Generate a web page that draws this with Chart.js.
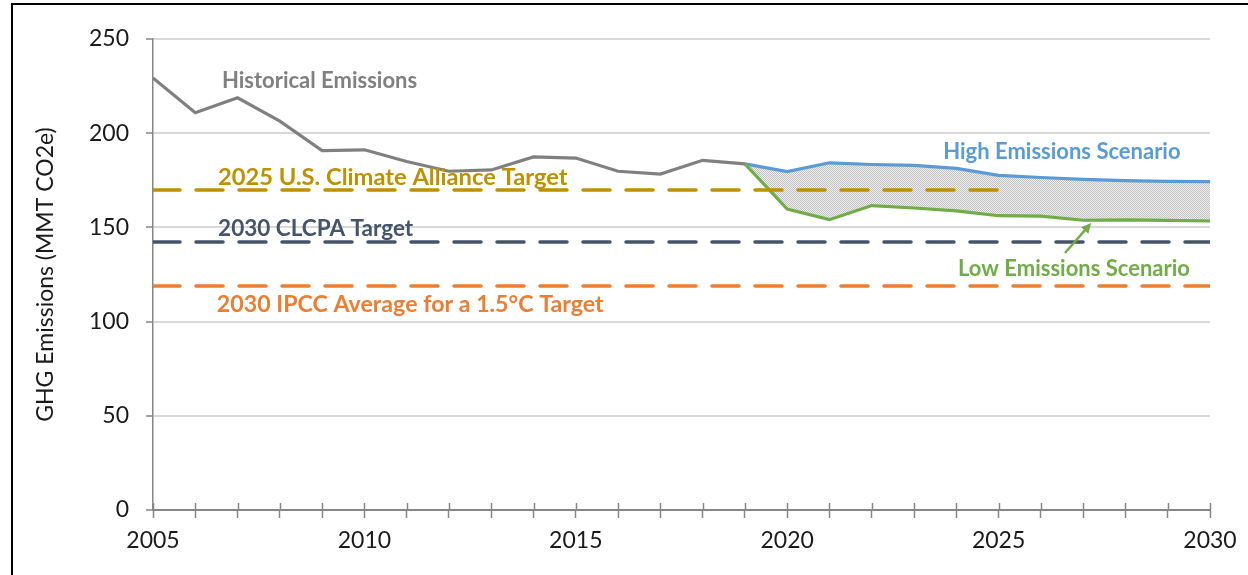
<!DOCTYPE html>
<html>
<head>
    <title>GHG Emissions Scenarios</title>
    <script src="https://cdn.jsdelivr.net/npm/chart.js"></script>
    <style>
        body { margin: 0; overflow: hidden; background: #fff; }
        #wrap { position: relative; width: 1248px; height: 575px; }
        #frame { position: absolute; left: 11px; top: 3px; width: 1300px; height: 700px; border: 2px solid #000; pointer-events: none; }
    </style>
</head>
<body>
    <div id="wrap">
        <canvas id="ghgChart" width="1248" height="575"></canvas>
        <div id="frame"></div>
    </div>

    <script>
        // data
        var histYears = [2005, 2006, 2007, 2008, 2009, 2010, 2011, 2012, 2013, 2014, 2015, 2016, 2017, 2018, 2019];
        var histValues = [229.3, 210.9, 218.8, 206.4, 190.8, 191.2, 185.0, 179.8, 180.5, 187.4, 186.8, 179.8, 178.3, 185.6, 183.7];

        var scenarioYears = [2019, 2020, 2021, 2022, 2023, 2024, 2025, 2026, 2027, 2028, 2029, 2030];
        var highValues = [183.7, 179.6, 184.3, 183.4, 182.9, 181.3, 177.6, 176.5, 175.5, 174.8, 174.4, 174.3];
        var lowValues = [183.7, 159.7, 154.1, 161.6, 160.3, 158.8, 156.2, 156.0, 153.8, 154.0, 153.7, 153.4];

        var targetNames = ['2025 U.S. Climate Alliance Target', '2030 CLCPA Target', '2030 IPCC Average for a 1.5°C Target'];
        var targetValues = [169.9, 142.3, 118.9];
        var targetStartYear = 2005;
        var targetEndYears = [2025, 2030, 2030];

        var yTicks = [0, 50, 100, 150, 200, 250];
        var xTickLabels = [2005, 2010, 2015, 2020, 2025, 2030];

        function pairs(xs, ys) {
            return xs.map(function(x, i) { return { x: x, y: ys[i] }; });
        }

        // stippled grey fill between the scenarios
        function dotPattern() {
            var c = document.createElement('canvas');
            c.width = 2; c.height = 2;
            var g = c.getContext('2d');
            g.fillStyle = '#f0f0f0';
            g.fillRect(0, 0, 2, 2);
            g.fillStyle = '#c0c0c0';
            g.fillRect(0, 0, 1, 1);
            g.fillRect(1, 1, 1, 1);
            return g.createPattern(c, 'repeat');
        }

        var targetColors = ['#BF9000', '#44546A', '#ED7D31'];

        var targetSets = targetValues.map(function(v, i) {
            return {
                label: targetNames[i],
                data: pairs([targetStartYear, targetEndYears[i]], [v, v]),
                borderColor: targetColors[i],
                borderWidth: 3.5,
                borderDash: [27, 16],
                borderCapStyle: 'round',
                pointRadius: 0,
                fill: false
            };
        });

        var notes = [
            { text: 'Historical Emissions', x: 2006.63, y: 227.7, color: '#808080', size: 22 },
            { text: 'High Emissions Scenario', x: 2023.69, y: 190.0, color: '#5B9BD5', size: 22 },
            { text: targetNames[0], x: 2006.54, y: 176.8, color: '#BF9000', size: 23.7 },
            { text: targetNames[1], x: 2006.54, y: 149.2, color: '#44546A', size: 22.5 },
            { text: targetNames[2], x: 2006.51, y: 108.8, color: '#ED7D31', size: 23.2 },
            { text: 'Low Emissions Scenario', x: 2024.04, y: 127.9, color: '#70AD47', size: 22 }
        ];
        var arrow = { from: [2026.57, 136.4], to: [2027.19, 152.3], color: '#70AD47' };

        var notesPlugin = {
            id: 'notes',
            afterDatasetsDraw: function(chart) {
                var ctx = chart.ctx;
                var xs = chart.scales.x, ys = chart.scales.y;
                ctx.save();
                // inner half of the x axis tick marks
                ctx.strokeStyle = '#868686';
                ctx.lineWidth = 1.5;
                xs.ticks.forEach(function(t) {
                    var px = Math.round(xs.getPixelForValue(t.value)) + 0.5;
                    ctx.beginPath();
                    ctx.moveTo(px, ys.bottom - 7);
                    ctx.lineTo(px, ys.bottom);
                    ctx.stroke();
                });
                ctx.textBaseline = 'middle';
                ctx.textAlign = 'left';
                notes.forEach(function(n) {
                    ctx.font = 'bold ' + n.size + 'px Lato';
                    ctx.fillStyle = n.color;
                    ctx.fillText(n.text, xs.getPixelForValue(n.x), ys.getPixelForValue(n.y));
                });
                // arrow to the low scenario line
                var x1 = xs.getPixelForValue(arrow.from[0]), y1 = ys.getPixelForValue(arrow.from[1]);
                var x2 = xs.getPixelForValue(arrow.to[0]), y2 = ys.getPixelForValue(arrow.to[1]);
                var a = Math.atan2(y2 - y1, x2 - x1);
                ctx.strokeStyle = arrow.color;
                ctx.fillStyle = arrow.color;
                ctx.lineWidth = 2.5;
                ctx.beginPath();
                ctx.moveTo(x1, y1);
                ctx.lineTo(x2 - 6 * Math.cos(a), y2 - 6 * Math.sin(a));
                ctx.stroke();
                ctx.beginPath();
                ctx.moveTo(x2, y2);
                ctx.lineTo(x2 - 11 * Math.cos(a - 0.45), y2 - 11 * Math.sin(a - 0.45));
                ctx.lineTo(x2 - 11 * Math.cos(a + 0.45), y2 - 11 * Math.sin(a + 0.45));
                ctx.closePath();
                ctx.fill();
                ctx.restore();
            }
        };

        var ctx = document.getElementById('ghgChart').getContext('2d');
        window.myChart = new Chart(ctx, {
            type: 'line',
            data: {
                datasets: [
                    {
                        label: 'Historical Emissions',
                        data: pairs(histYears, histValues),
                        borderColor: '#808080',
                        borderWidth: 3.2,
                        pointRadius: 0,
                        fill: false
                    },
                    targetSets[0],
                    targetSets[1],
                    targetSets[2],
                    {
                        label: 'Low Emissions Scenario',
                        data: pairs(scenarioYears, lowValues),
                        borderColor: '#70AD47',
                        borderWidth: 3.2,
                        pointRadius: 0,
                        fill: false
                    },
                    {
                        label: 'High Emissions Scenario',
                        data: pairs(scenarioYears, highValues),
                        borderColor: '#5B9BD5',
                        borderWidth: 3.2,
                        pointRadius: 0,
                        backgroundColor: dotPattern(),
                        fill: '-1'
                    }
                ]
            },
            options: {
                responsive: false,
                animation: false,
                layout: { padding: { left: 0, right: 38, top: 39, bottom: 0 } },
                plugins: {
                    legend: { display: false },
                    tooltip: { enabled: false }
                },
                scales: {
                    x: {
                        type: 'linear',
                        min: 2005,
                        max: 2030,
                        afterFit: function(scale) { scale.height = 65; },
                        ticks: {
                            stepSize: 1,
                            autoSkip: false,
                            maxRotation: 0,
                            padding: 9,
                            color: '#1a1a1a',
                            font: { family: 'Lato', size: 23 },
                            callback: function(v) { return xTickLabels.indexOf(v) >= 0 ? String(v) : ''; }
                        },
                        grid: {
                            drawOnChartArea: false,
                            tickLength: 8,
                            tickColor: '#868686',
                            tickWidth: 1.5
                        },
                        border: { color: '#868686', width: 2 }
                    },
                    y: {
                        min: 0,
                        max: 250,
                        afterFit: function(scale) { scale.width = 153; },
                        afterBuildTicks: function(scale) {
                            scale.ticks = yTicks.map(function(v) { return { value: v }; });
                        },
                        ticks: {
                            padding: 17,
                            color: '#1a1a1a',
                            font: { family: 'Lato', size: 23 }
                        },
                        grid: {
                            color: '#D9D9D9',
                            lineWidth: 2,
                            tickLength: 7,
                            tickColor: '#868686',
                            tickWidth: 1.5
                        },
                        border: { color: '#868686', width: 1.5 },
                        title: {
                            display: true,
                            text: 'GHG Emissions (MMT CO2e)',
                            color: '#1a1a1a',
                            font: { family: 'Lato', size: 23 },
                            padding: { top: 32, bottom: 0 }
                        }
                    }
                }
            },
            plugins: [notesPlugin]
        });
    </script>
</body>
</html>
